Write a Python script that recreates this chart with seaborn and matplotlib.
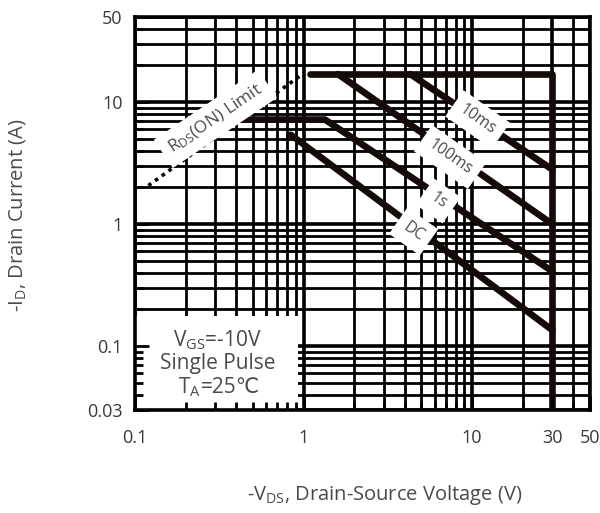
import matplotlib
matplotlib.use("Agg")
import matplotlib.pyplot as plt
import seaborn as sns
from matplotlib.patches import Rectangle
from matplotlib.ticker import NullFormatter, FixedLocator, FixedFormatter

# ---- data ----
x_ticks = [0.1, 1, 10, 30, 50]
x_tick_labels = ["0.1", "1", "10", "30", "50"]
y_ticks = [0.03, 0.1, 1, 10, 50]
y_tick_labels = ["0.03", "0.1", "1", "10", "50"]

rds_v = [0.12, 1.0]
rds_i = [2.07, 17.2]

limit_v = [1.1, 30, 30]
limit_i = [17, 17, 0.03]

ms10_v = [4.3, 30]
ms10_i = [17, 2.8]

ms100_v = [1.6, 30]
ms100_i = [17, 1.0]

s1_v = [0.42, 1.34, 30]
s1_i = [7.2, 7.2, 0.41]

dc_v = [0.84, 30]
dc_i = [5.4, 0.135]

labels_text = ["10ms", "100ms", "1s", "DC"]
labels_v = [10.8, 7.4, 6.3, 4.5]
labels_i = [7.2, 3.55, 1.55, 0.87]

sns.set_theme(style="white")
plt.rcParams["font.family"] = ["Open Sans", "DejaVu Sans"]
plt.rcParams["mathtext.default"] = "regular"

TXT = "#4a4a4a"
FAM = ["Open Sans", "DejaVu Sans"]

fig = plt.figure(figsize=(6, 5.13), dpi=100)
rect = [0.225, 0.201, 0.758, 0.766]
ax = fig.add_axes(rect)
ax.set_xscale("log")
ax.set_yscale("log")
ax.set_xlim(0.1, 50)
ax.set_ylim(0.03, 50)

minor_x = [m * d for d in (0.1, 1, 10) for m in range(2, 10)]
minor_y = [m * d for d in (0.01, 0.1, 1, 10) for m in range(2, 10)]
minor_x = [v for v in minor_x if 0.1 < v < 50]
minor_y = [v for v in minor_y if 0.03 < v < 50]

ax.xaxis.set_major_locator(FixedLocator(x_ticks))
ax.xaxis.set_major_formatter(FixedFormatter(x_tick_labels))
ax.yaxis.set_major_locator(FixedLocator(y_ticks))
ax.yaxis.set_major_formatter(FixedFormatter(y_tick_labels))
ax.xaxis.set_minor_locator(FixedLocator(minor_x))
ax.yaxis.set_minor_locator(FixedLocator(minor_y))
ax.xaxis.set_minor_formatter(NullFormatter())
ax.yaxis.set_minor_formatter(NullFormatter())

ax.set_axisbelow(True)
ax.grid(which="major", color="black", linewidth=2.6)
ax.grid(which="minor", color="black", linewidth=2.0)
ax.tick_params(which="both", length=0)
ax.tick_params(axis="x", pad=14, labelsize=13, labelcolor="#3a3a3a")
ax.tick_params(axis="y", pad=9, labelsize=13, labelcolor="#3a3a3a")
for s in ax.spines.values():
    s.set_visible(False)

# white annotation box in lower-left
ax.add_patch(Rectangle((0.1, 0.03), 0.93 - 0.1, 0.175 - 0.03,
                       facecolor="white", edgecolor="none", zorder=1.5))
bx, by = 0.31, 0.072
ax.annotate("V$_{GS}$=-10V", xy=(bx, by), xytext=(0, 17),
            textcoords="offset points", ha="center", va="center",
            fontsize=15, color=TXT, zorder=6)
ax.annotate("Single Pulse", xy=(bx, by), xytext=(0, 0),
            textcoords="offset points", ha="center", va="center",
            fontsize=15, color=TXT, zorder=6)
ax.annotate("T$_{A}$", xy=(bx, by), xytext=(-12, -17),
            textcoords="offset points", ha="right", va="center",
            fontsize=15, color=TXT, zorder=6)
ax.annotate("=25℃", xy=(bx, by), xytext=(-12, -17),
            textcoords="offset points", ha="left", va="center",
            fontsize=15, color=TXT, zorder=6, family=FAM)

# curves
sns.lineplot(x=rds_v, y=rds_i, ax=ax, color="black", linewidth=2.6,
             linestyle=(0, (1, 1.3)), sort=False, estimator=None, zorder=3)
for v, i in [(limit_v, limit_i), (ms10_v, ms10_i), (ms100_v, ms100_i),
             (s1_v, s1_i), (dc_v, dc_i)]:
    sns.lineplot(x=v, y=i, ax=ax, color="#150a0a", linewidth=4.8,
                 sort=False, estimator=None, zorder=3)

box = dict(boxstyle="square,pad=0.5", facecolor="white", edgecolor="none")
for t, v, i in zip(labels_text, labels_v, labels_i):
    ax.text(v, i, t, rotation=-35, ha="center", va="center", fontsize=11.5,
            color=TXT, bbox=box, zorder=5, rotation_mode="anchor")
ax.text(0.30, 7.3, "R$_{DS}$(ON) Limit", rotation=34, ha="center", va="center",
        fontsize=12.5, color=TXT, bbox=dict(boxstyle="square,pad=0.45",
                                           facecolor="white", edgecolor="none"),
        zorder=5, rotation_mode="anchor")

# overlay axes for inward tick stubs and the frame
ax2 = fig.add_axes(rect)
ax2.set_xscale("log")
ax2.set_yscale("log")
ax2.set_xlim(0.1, 50)
ax2.set_ylim(0.03, 50)
ax2.patch.set_visible(False)
ax2.xaxis.set_major_locator(FixedLocator(x_ticks))
ax2.yaxis.set_major_locator(FixedLocator(y_ticks))
ax2.xaxis.set_minor_locator(FixedLocator(minor_x))
ax2.yaxis.set_minor_locator(FixedLocator(minor_y))
ax2.xaxis.set_major_formatter(NullFormatter())
ax2.yaxis.set_major_formatter(NullFormatter())
ax2.xaxis.set_minor_formatter(NullFormatter())
ax2.yaxis.set_minor_formatter(NullFormatter())
ax2.tick_params(which="both", direction="in", color="black", width=2,
                bottom=True, left=True, top=False, right=False,
                labelbottom=False, labelleft=False)
ax2.tick_params(which="major", length=10)
ax2.tick_params(which="minor", length=6)
ax2.grid(False)
for s in ax2.spines.values():
    s.set_visible(True)
    s.set_color("black")
    s.set_linewidth(2.6)

fig.text(0.642, 0.035, "-V$_{DS}$, Drain-Source Voltage (V)", ha="center",
         va="center", fontsize=14.5, color=TXT)
fig.text(0.03, 0.58, "-I$_{D}$, Drain Current (A)", ha="center", va="center",
         rotation=90, fontsize=14.5, color=TXT)

fig.savefig("out.png", dpi=100, facecolor="white")
